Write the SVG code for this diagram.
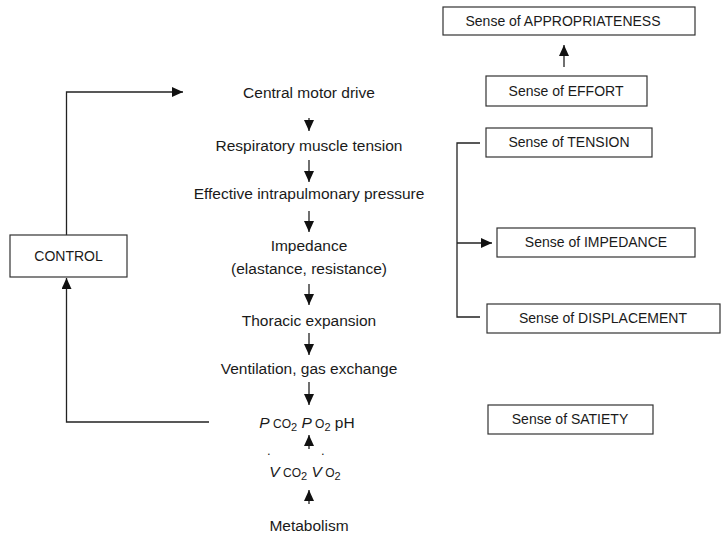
<svg xmlns="http://www.w3.org/2000/svg" width="722" height="539" viewBox="0 0 722 539">
<style>
text{font-family:"Liberation Sans",Arial,sans-serif;font-size:15.5px;fill:#1a1a1a}
.c{text-anchor:middle}
.bt{font-size:14px}
.box{fill:#fff;stroke:#333;stroke-width:1.2}
.ln{fill:none;stroke:#222;stroke-width:1.3}
.it{font-style:italic}
.sm{font-size:12px}
.sb{font-size:11px}
</style>
<defs>
<marker id="ah" markerWidth="12" markerHeight="10" refX="11" refY="5" orient="auto" markerUnits="userSpaceOnUse">
<path d="M0,0 L11,5 L0,10 Z" fill="#111"/>
</marker>
</defs>
<rect width="722" height="539" fill="#fff"/>

<g id="connectors">
<polyline class="ln" points="66.5,235 66.5,92 183,92" marker-end="url(#ah)"/>
<polyline class="ln" points="209,422 66.5,422 66.5,278" marker-end="url(#ah)"/>
<line class="ln" x1="309" y1="118" x2="309" y2="131" marker-end="url(#ah)"/>
<line class="ln" x1="309" y1="160" x2="309" y2="182" marker-end="url(#ah)"/>
<line class="ln" x1="309" y1="211" x2="309" y2="232" marker-end="url(#ah)"/>
<line class="ln" x1="309" y1="284" x2="309" y2="305" marker-end="url(#ah)"/>
<line class="ln" x1="309" y1="333" x2="309" y2="355" marker-end="url(#ah)"/>
<line class="ln" x1="309" y1="382" x2="309" y2="405" marker-end="url(#ah)"/>
<line class="ln" x1="309" y1="449" x2="309" y2="435" marker-end="url(#ah)"/>
<line class="ln" x1="309" y1="504" x2="309" y2="490" marker-end="url(#ah)"/>
<line class="ln" x1="564" y1="67" x2="564" y2="45" marker-end="url(#ah)"/>
<polyline class="ln" points="480,143 457,143 457,317 480,317"/>
<line class="ln" x1="457" y1="243" x2="492" y2="243" marker-end="url(#ah)"/>
</g>

<g id="control"><rect class="box" x="10" y="235" width="117" height="42"/><text class="c bt" x="68.5" y="261">CONTROL</text></g>

<g id="central"><text class="c" x="309" y="98">Central motor drive</text></g>
<g id="tension"><text class="c" x="309" y="151">Respiratory muscle tension</text></g>
<g id="pressure"><text class="c" x="309" y="199">Effective intrapulmonary pressure</text></g>
<g id="impedance"><text class="c" x="309" y="251">Impedance</text><text class="c" x="309" y="274">(elastance, resistance)</text></g>
<g id="thoracic"><text class="c" x="309" y="326">Thoracic expansion</text></g>
<g id="ventilation"><text class="c" x="309" y="374">Ventilation, gas exchange</text></g>
<g id="gases"><text class="c" x="307" y="428"><tspan class="it">P</tspan><tspan class="sm"> CO</tspan><tspan class="sb" dy="3">2</tspan><tspan dy="-3"> </tspan><tspan class="it">P</tspan><tspan class="sm"> O</tspan><tspan class="sb" dy="3">2</tspan><tspan dy="-3"> pH</tspan></text></g>
<g id="vflow"><text class="c" x="305" y="477"><tspan class="it">V</tspan><tspan class="sm"> CO</tspan><tspan class="sb" dy="3">2</tspan><tspan dy="-3"> </tspan><tspan class="it">V</tspan><tspan class="sm"> O</tspan><tspan class="sb" dy="3">2</tspan></text>
<text x="267" y="455" style="font-size:13px">.</text><text x="321" y="455" style="font-size:13px">.</text></g>
<g id="metabolism"><text class="c" x="309" y="531">Metabolism</text></g>

<g id="appropriateness"><rect class="box" x="443" y="7" width="252" height="28"/><text class="c bt" x="563" y="26">Sense of APPROPRIATENESS</text></g>
<g id="effort"><rect class="box" x="486" y="76" width="161" height="30"/><text class="c bt" x="566" y="96">Sense of EFFORT</text></g>
<g id="s-tension"><rect class="box" x="486" y="128" width="166" height="29"/><text class="c bt" x="569" y="147">Sense of TENSION</text></g>
<g id="s-impedance"><rect class="box" x="497" y="228" width="198" height="29"/><text class="c bt" x="596" y="247">Sense of IMPEDANCE</text></g>
<g id="displacement"><rect class="box" x="487" y="304" width="233" height="29"/><text class="c bt" x="603" y="323">Sense of DISPLACEMENT</text></g>
<g id="satiety"><rect class="box" x="488" y="405" width="165" height="29"/><text class="c bt" x="570" y="424">Sense of SATIETY</text></g>
</svg>
